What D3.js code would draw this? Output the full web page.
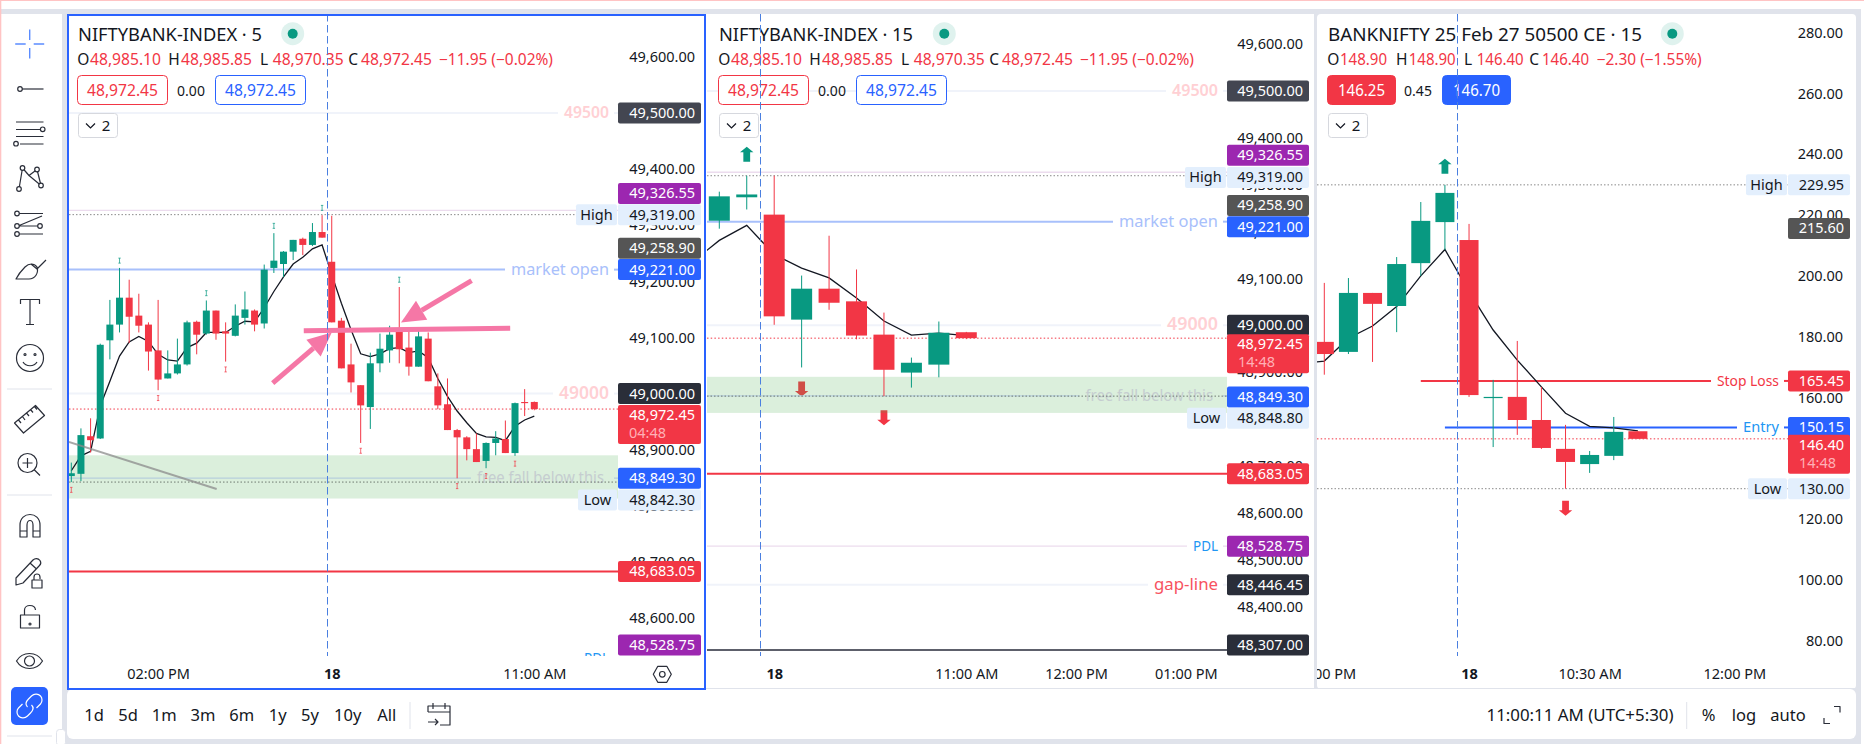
<!DOCTYPE html>
<html>
<head>
<meta charset="utf-8">
<title>Bank Nifty</title>
<script src="https://cdn.jsdelivr.net/npm/d3@7"></script>
<style>
body { margin: 0; background: #fff; }
text { font-family: "Noto Sans", sans-serif; }
</style>
</head>
<body>
<div id="chart"></div>
<script>
// 5 minute index
const open5 = [48853,48857,48924,48920,49095,49123,49171,49139,49123,49077,49027,49036,49052,49128,49107,49148,49111,49103,49135,49148,49125,49224,49231,49253,49276,49265,49288,49235,49130,49052,49015,48976,49054,49077,49111,49082,49048,49098,49013,48981,48935,48922,48901,48880,48912,48919,48894,48985,48985.1];
const high5 = [48877,48938,48956,49089,49167,49224,49203,49178,49127,49167,49077,49098,49130,49130,49166,49148,49127,49159,49182,49150,49230,49286,49254,49274,49278,49304,49318,49317,49135,49089,49015,49073,49107,49121,49190,49111,49112,49109,49036,49027,48937,48924,48929,48913,48933,48952,48984,49008,48985.85];
const low5 = [48842.3,48844,48895,48919,49061,49109,49090,49109,49041,49006,49027,49034,49050,49070,49105,49096,49057,49102,49123,49111,49116,49215,49208,49238,49247,49263,49278,49127,49045,49002,48912,48937,49038,49055,49054,49032,49048,49022,48972,48935,48849,48881,48878,48867,48890,48894,48889,48960,48970.35];
const close5 = [48858,48926,48917,49087,49123,49171,49137,49121,49075,49025,49036,49052,49127,49105,49148,49107,49107,49139,49150,49123,49221,49237,49253,49274,49265,49288,49278,49127,49045,49020,48979,49054,49080,49105,49079,49048,49102,49022,48979,48935,48922,48901,48878,48912,48920,48894,48983,48983,48972.45];
const ma5 = [48862.5,48889,48897,48978,49022,49067,49092,49102,49093,49070,49060,49058,49082,49090,49109,49109,49109,49120,49129,49128,49153,49182,49208,49231,49243,49258,49265,49212,49161,49114,49071,49066,49071,49080,49082,49073,49076,49064,49027,48995,48969,48948,48929,48923,48922,48916,48942,48953,48960];
const peakBars5 = [5,14,21,26,34];
const dipBars5 = [0,9,16,30,40,43,46];

// 15 minute index
const open15 = [49223,49273,49236,49012,49078,49051,48980,48899,48916,48985.1];
const high15 = [49285,49319,49319,49106,49191,49119,49027,48931,49008,48985.85];
const low15 = [49206,49247,49001,48910,49033,48970,48848.8,48867,48889,48970.35];
const close15 = [49275,49279,49019,49078,49048,48978,48905,48920,48984,48972.45];
const ma15 = [49134,49181,49213,49151,49122,49101,49058,49009,48979,48983,48978]; // first point is the bar before the left edge

// 15 minute option
const open15ce = [178.3,175,194.4,190.1,204.2,217.7,211.8,159.8,160.2,152.6,143.1,138.1,140.8,148.9];
const high15ce = [197.7,199.3,194.4,206.2,224.3,229.95,217.1,165.8,178.6,163.5,151,142.4,153.6,148.9];
const low15ce = [167.5,174.3,171.7,181.5,200,208.5,160.2,143.7,147.7,143.1,130,135.2,139.4,146.4];
const close15ce = [174.3,194.4,190.8,203.9,218.1,227.3,160.8,160.2,152.6,143.4,138.8,141.1,148.7,146.4];
const ma15ce = [171,172,179.5,183.5,189.9,200,208.7,194.8,182.2,172.3,163.5,154.8,150.5,150,149];

// price axis ticks
const ticksIndex5 = [49600,49500,49400,49300,49200,49100,49000,48900,48800,48700,48600];
const ticksIndex15 = [49600,49500,49400,49300,49200,49100,49000,48900,48800,48700,48600,48500,48400];
const ticksOption = [280,260,240,220,200,180,160,140,120,100,80];

// time axis
const timeBars5 = [9,27,48];
const timeLabels5 = ["02:00 PM","18","11:00 AM"];
const timeBars15 = [2,9,13,17];
const timeLabels15 = ["18","11:00 AM","12:00 PM","01:00 PM"];
const timeBarsCe = [0,6,11,17];
const timeLabelsCe = ["03:00 PM","18","10:30 AM","12:00 PM"];

// drawn levels
const levelPrices = [49500,49326.55,49221,49000,48849.3,48683.05,48528.75,48446.45,48307];
const levelNames = ["49500","","market open","49000","free fall below this","","PDL","gap-line",""];
const zonePrices = [48890,48813];
const dayHigh5 = 49319, dayLow5 = 48842.3, dayHigh15 = 49319, dayLow15 = 48848.8;
const dayHighCe = 229.95, dayLowCe = 130, stopLoss = 165.45, entry = 150.15, maTagCe = 215.6, maTag = 49258.9;

// pink notes on the 5 minute chart: [bar, price]
const noteFlat = [[24.1,49112],[45.5,49116.7]];
const noteArrowA = [[20.88,49018.7],[27,49108.8]];
const noteArrowB = [[41.5,49201.5],[34.18,49126.6]];
const greyTrend = [[-0.25,48914],[15.07,48830]];

const rangeLabels = ["1d","5d","1m","3m","6m","1y","5y","10y","All"];

const RED = "#f23645", GREEN = "#089981", BLUE = "#2962ff", PURPLE = "#9c27b0", DARK = "#2a2e39", INK = "#131722", GREY = "#e0e3eb", PINK = "#f577a6", SOFT = "#f0f3fa";
const fmt = d3.format(",.2f");
const fmt2 = d3.format(".2f");

const svg = d3.select("#chart").append("svg")
    .attr("width", 1864).attr("height", 744)
    .style("display", "block");

// page frame
svg.append("rect").attr("width", 1864).attr("height", 744).attr("fill", "#fff");
svg.append("rect").attr("y", 9).attr("x", 1).attr("width", 1860).attr("height", 735).attr("fill", GREY);
svg.append("rect").attr("x", 1).attr("y", 14).attr("width", 61).attr("height", 730).attr("fill", "#fff");
svg.append("rect").attr("width", 1864).attr("height", 1).attr("fill", "#ffc4c4");
svg.append("rect").attr("width", 1.3).attr("height", 744).attr("fill", "#ffc4c4");
svg.append("rect").attr("x", 1861).attr("y", 9).attr("width", 3).attr("height", 735).attr("fill", "#fff");
svg.append("rect").attr("x", 67).attr("y", 14).attr("width", 640).attr("height", 675).attr("fill", "#fff");
svg.append("rect").attr("x", 707).attr("y", 14).attr("width", 607).attr("height", 675).attr("fill", "#fff");
svg.append("rect").attr("x", 1317).attr("y", 14).attr("width", 539).attr("height", 675).attr("rx", 4).attr("fill", "#fff");
svg.append("rect").attr("x", 67).attr("y", 689).attr("width", 1789).attr("height", 50).attr("rx", 6).attr("fill", "#fff");
svg.append("rect").attr("x", 67).attr("y", 688).attr("width", 1789).attr("height", 1).attr("fill", GREY);
svg.append("rect").attr("x", 56.5).attr("y", 729.5).attr("width", 9).attr("height", 16).attr("rx", 3)
    .attr("fill", "#fff").attr("stroke", GREY);

const defs = svg.append("defs");
function clip(id, x, y, w, h) {
    defs.append("clipPath").attr("id", id).append("rect")
        .attr("x", x).attr("y", y).attr("width", w).attr("height", h);
}

function put(g, x, y, str, o) {
    o = o || {};
    const t = g.append("text").attr("x", x).attr("y", y).text(str)
        .attr("fill", o.fill || INK)
        .attr("font-size", o.size || 14.5)
        .attr("text-anchor", o.anchor || "start");
    if (o.weight) t.attr("font-weight", o.weight);
    if (o.len) t.attr("textLength", o.len).attr("lengthAdjust", "spacingAndGlyphs");
    return t;
}

function drawPane(c) {
    const n = c.open.length;
    const x = d3.scaleLinear().domain([0, n - 1]).range(c.xRange);
    const y = d3.scaleLinear().domain(c.yDomain).range(c.yRange);
    const id = c.id;
    clip("plot" + id, c.left, 16, c.axisX - c.left, 640);
    clip("time" + id, c.left, 656, c.axisX - c.left + 60, 32);

    // price ticks go under the tags
    const axis = svg.append("g").attr("transform", "translate(" + c.axisX + ",0)")
        .call(d3.axisRight(y).tickValues(c.ticks).tickFormat(fmt).tickSize(0));
    axis.select(".domain").remove();
    axis.selectAll("text")
        .attr("x", c.tickRight).attr("dy", ".32em").attr("text-anchor", "end")
        .attr("fill", INK).style("font-family", "Noto Sans").style("font-size", "14.5px");

    // time axis
    const timeAxis = svg.append("g").attr("clip-path", "url(#time" + id + ")").append("g")
        .attr("transform", "translate(0,674)")
        .call(d3.axisBottom(x).tickValues(c.timeBars).tickSize(0)
            .tickFormat((d, i) => c.timeLabels[i]));
    timeAxis.select(".domain").remove();
    timeAxis.selectAll("text")
        .attr("y", 0).attr("dy", ".35em").attr("fill", INK)
        .style("font-family", "Noto Sans").style("font-size", "14.5px")
        .style("font-weight", (d, i) => c.timeLabels[i] == "18" ? "700" : "400");

    const plot = svg.append("g").attr("clip-path", "url(#plot" + id + ")");

    // big session arrows sit under the zone
    (c.bigArrows || []).forEach(a => {
        const ax = x(a.bar), s = a.up ? -1 : 1;
        const ay = y(a.up ? c.high[a.bar] : c.low[a.bar]) + s * a.gap;
        plot.append("path")
            .attr("d", d3.line()([[ax - 3.4, ay], [ax + 3.4, ay], [ax + 3.4, ay + s * 9.5], [ax + 6.7, ay + s * 9.5], [ax, ay + s * 15], [ax - 6.7, ay + s * 9.5], [ax - 3.4, ay + s * 9.5]]) + "Z")
            .attr("fill", a.up ? GREEN : RED);
    });

    if (c.zone) {
        plot.append("rect").attr("x", c.left).attr("width", c.axisX - c.left)
            .attr("y", y(c.zone[0])).attr("height", y(c.zone[1]) - y(c.zone[0]))
            .attr("fill", "#4caf50").attr("opacity", 0.2);
    }

    // horizontal levels, split around their names
    c.levels.forEach(l => {
        const ly = y(l.price);
        let endX = c.axisX, startX = l.from === undefined ? c.left : x(l.from);
        if (l.name) {
            const pad = l.pad || 9;
            const t = put(plot, c.axisX - pad, ly + 5, l.name, { anchor: "end", fill: l.textFill, size: l.size || 15, len: l.len, weight: l.weight });
            const tw = l.len || t.node().getComputedTextLength();
            endX = c.axisX - pad - tw - 6;
            plot.append("line").attr("x1", c.axisX - 4).attr("x2", c.axisX).attr("y1", ly).attr("y2", ly)
                .attr("stroke", l.stroke).attr("stroke-width", l.w);
        }
        plot.append("line").attr("x1", startX).attr("x2", endX).attr("y1", ly).attr("y2", ly)
            .attr("stroke", l.stroke).attr("stroke-width", l.w)
            .attr("stroke-dasharray", l.dash || null);
    });

    // moving average stays behind the bodies
    const maStart = c.ma.length - n ? n - c.ma.length : 0;
    plot.append("path")
        .datum(c.ma)
        .attr("fill", "none").attr("stroke", "#131722").attr("stroke-width", 1.3)
        .attr("d", d3.line().x((d, i) => x(i + maStart)).y(d => y(d)));

    const bars = d3.range(n);
    const colr = i => c.close[i] < c.open[i] ? RED : GREEN;
    plot.selectAll(".wick" + id).data(bars).enter().append("line")
        .attr("x1", i => x(i)).attr("x2", i => x(i))
        .attr("y1", i => y(c.high[i])).attr("y2", i => y(c.low[i]))
        .attr("stroke", colr).attr("stroke-width", 1);
    plot.selectAll(".body" + id).data(bars).enter().append("rect")
        .attr("x", i => x(i) - c.bodyW / 2).attr("width", c.bodyW)
        .attr("y", i => Math.min(y(c.open[i]), y(c.close[i])))
        .attr("height", i => Math.max(1, Math.abs(y(c.open[i]) - y(c.close[i]))))
        .attr("fill", colr);

    // small peak and dip ticks
    const tiny = (bar, py, col) => {
        const tx = x(bar);
        plot.append("path")
            .attr("d", `M${tx},${py - 2.5}V${py + 2.5}M${tx - 1.2},${py - 2.5}H${tx + 1.2}M${tx - 1.2},${py + 2.5}H${tx + 1.2}`)
            .attr("stroke", col).attr("stroke-width", 1).attr("fill", "none").attr("opacity", 0.7);
    };
    (c.peaks || []).forEach(b => tiny(b, y(c.high[b]) - 7.3, GREEN));
    (c.dips || []).forEach(b => tiny(b, y(c.low[b]) + 7.8, RED));

    if (c.extra) c.extra(plot, x, y);

    // tags on the price scale
    c.tags.forEach(t => {
        const cy = y(t.price) + (t.shift || 0);
        const h = t.timer ? 39 : 21;
        const top = t.timer ? y(t.price) - 4 : cy - 10.5;
        svg.append("rect").attr("x", c.axisX).attr("y", top).attr("width", c.tagW).attr("height", h)
            .attr("rx", 2).attr("fill", t.bg);
        const base = t.timer ? top + 15 : cy + 5;
        put(svg, c.axisX + c.tagText, base, fmt(t.price).replace(c.strip ? /,/g : "", ""), { anchor: "end", fill: t.fg || "#fff" });
        if (t.timer) put(svg, c.axisX + 48, top + 33, t.timer, { anchor: "end", fill: "#ffb0b6" });
        if (t.side) {
            svg.append("rect").attr("x", c.axisX - t.sideW - 1).attr("y", top).attr("width", t.sideW).attr("height", h)
                .attr("rx", 2).attr("fill", t.bg);
            put(svg, c.axisX - 1 - t.sideW / 2, base, t.side, { anchor: "middle" });
        }
    });

    // legend
    const L = svg.append("g");
    put(L, c.title.x, 41, c.title.text, { size: 18, len: c.title.len });
    L.append("circle").attr("cx", c.title.dot).attr("cy", 33.7).attr("r", 11.5).attr("fill", "#dff2ee");
    L.append("circle").attr("cx", c.title.dot).attr("cy", 33.7).attr("r", 5).attr("fill", GREEN);
    const last = n - 1;
    const f = c.strip ? fmt2 : fmt;
    const parts = [["O", c.row[0], c.open[last]], ["H", c.row[1], c.high[last]], ["L", c.row[2], c.low[last]], ["C", c.row[3], c.close[last]]];
    parts.forEach(p => {
        put(L, p[1], 65, p[0], { size: 15.5 });
        put(L, p[1] + c.rowGap, 65, f(p[2]), { size: 15.5, fill: RED, len: c.rowLen });
    });
    put(L, c.row[4], 65, c.change, { size: 15.5, fill: RED, len: c.changeLen });
    const btn = (bx, w, txt, col, solid) => {
        L.append("rect").attr("x", bx + 0.5).attr("y", 75.5).attr("width", w).attr("height", 29).attr("rx", 4)
            .attr("fill", solid ? col : "#fff").attr("stroke", col);
        put(L, bx + w / 2 + 0.5, 96, txt, { anchor: "middle", size: 15.5, fill: solid ? "#fff" : col, len: c.btnLen });
    };
    btn(c.btn[0], c.btnW, c.sell, RED, c.solid);
    put(L, c.btn[1], 95.5, c.spread, { anchor: "middle", size: 14 });
    btn(c.btn[2], c.btnW, c.buy, BLUE, c.solid);
    L.append("rect").attr("x", c.btn[0] + 1.5).attr("y", 113.5).attr("width", 39).attr("height", 24).attr("rx", 3)
        .attr("fill", "#fff").attr("stroke", "#d6d8de");
    L.append("path").attr("d", `M${c.btn[0] + 9},${123.5}l4.5,4.5l4.5,-4.5`).attr("fill", "none").attr("stroke", INK).attr("stroke-width", 1.2);
    put(L, c.btn[0] + 29, 131, "2", { anchor: "middle", size: 15 });

    // crosshair passes over everything
    svg.append("line").attr("x1", c.crossX).attr("x2", c.crossX).attr("y1", 14).attr("y2", 656)
        .attr("stroke", "#4a7fe0").attr("stroke-width", 1).attr("stroke-dasharray", "7.5,3.5");
}

const levelStyle = [
    { stroke: SOFT, w: 2, textFill: "#ffd0d4", size: 15.5, weight: 600 },
    { stroke: "#ecdcee", w: 1.4 },
    { stroke: "#a8c0fb", w: 2, textFill: "#a8c0fb", size: 15.5 },
    { stroke: SOFT, w: 2, textFill: "#ffd0d4", size: 17, weight: 600 },
    { stroke: "#b7cfdc", w: 1.4, textFill: "#c5cdd0", size: 15.5, pad: 14 },
    { stroke: RED, w: 2 },
    { stroke: "#ecdcee", w: 1.4, textFill: "#2196f3", size: 15 },
    { stroke: SOFT, w: 2, textFill: "#f7525f", size: 15.5 },
    { stroke: "#5d606b", w: 2 }
];
const levelLens = [[45,null,98,50,127,null,25,64,null],[46,null,99,51,127.5,null,25,64,null]];
const buildLevels = (k, high, low) => levelPrices.map((p, i) => Object.assign({ price: p, name: levelNames[i], len: levelLens[k][i] }, levelStyle[i]))
    .concat([
        { price: high, stroke: "#8a8a8a", w: 1, dash: "1.5,2", end: true },
        { price: low, stroke: "#6f7a70", w: 1, dash: "1.5,2" },
        { price: close5[close5.length - 1], stroke: RED, w: 1, dash: "1.5,2.2" }
    ]);

// pink notes and the grey trend line, given as bar and price
function drawNotes(plot, x, y) {
    plot.append("line")
        .attr("x1", x(greyTrend[0][0])).attr("y1", y(greyTrend[0][1]))
        .attr("x2", x(greyTrend[1][0])).attr("y2", y(greyTrend[1][1]))
        .attr("stroke", "#8c8c8c").attr("stroke-width", 2).attr("opacity", 0.75);
    plot.append("line")
        .attr("x1", x(noteFlat[0][0])).attr("y1", y(noteFlat[0][1]))
        .attr("x2", x(noteFlat[1][0])).attr("y2", y(noteFlat[1][1]))
        .attr("stroke", PINK).attr("stroke-width", 5);
    [noteArrowA, noteArrowB].forEach(a => {
        const x0 = x(a[0][0]), y0 = y(a[0][1]), x1 = x(a[1][0]), y1 = y(a[1][1]);
        const d = Math.hypot(x1 - x0, y1 - y0), ux = (x1 - x0) / d, uy = (y1 - y0) / d;
        const bx = x1 - ux * 24, by = y1 - uy * 24;
        plot.append("line").attr("x1", x0).attr("y1", y0).attr("x2", bx).attr("y2", by)
            .attr("stroke", PINK).attr("stroke-width", 5);
        plot.append("path")
            .attr("d", d3.line()([[x1, y1], [bx - uy * 11, by + ux * 11], [bx + uy * 11, by - ux * 11]]) + "Z")
            .attr("fill", PINK);
    });
}

drawPane({
    id: 1, left: 69, axisX: 618, tagW: 83, tagText: 77, tickRight: 77, bodyW: 7, crossX: 327.5,
    open: open5, high: high5, low: low5, close: close5, ma: ma5,
    xRange: [71.3, 534.3], yDomain: [49600, 48600], yRange: [57, 618],
    ticks: ticksIndex5, timeBars: timeBars5, timeLabels: timeLabels5,
    zone: zonePrices, peaks: peakBars5, dips: dipBars5, extra: drawNotes,
    levels: buildLevels(0, dayHigh5, dayLow5),
    tags: [
        { price: 49500, bg: "#434651" },
        { price: 49326.55, bg: PURPLE, shift: -17 },
        { price: dayHigh5, bg: "#e3effd", fg: INK, side: "High", sideW: 41 },
        { price: maTag, bg: "#555" },
        { price: 49221, bg: BLUE },
        { price: 49000, bg: DARK },
        { price: close5[48], bg: RED, timer: "04:48" },
        { price: 48849.3, bg: BLUE },
        { price: dayLow5, bg: "#e3effd", fg: INK, side: "Low", sideW: 39, shift: 18 },
        { price: 48683.05, bg: RED },
        { price: 48528.75, bg: PURPLE, shift: -13 }
    ],
    title: { x: 78, text: "NIFTYBANK-INDEX · 5", len: 184, dot: 292.7 },
    row: [77.3, 168.3, 260, 348.3, 439], rowGap: 12.7, rowLen: 71, change: "−11.95 (−0.02%)", changeLen: 114,
    btn: [77, 191, 215], btnW: 90, btnLen: 71, sell: "48,972.45", buy: "48,972.45", spread: "0.00"
});

drawPane({
    id: 2, left: 707, axisX: 1227, tagW: 82, tagText: 76, tickRight: 76, bodyW: 21, crossX: 760.5,
    open: open15, high: high15, low: low15, close: close15, ma: ma15,
    xRange: [719.3, 966.3], yDomain: [49600, 48400], yRange: [44, 606.5],
    ticks: ticksIndex15, timeBars: timeBars15, timeLabels: timeLabels15,
    zone: zonePrices,
    bigArrows: [{ bar: 1, up: true, gap: 14 }, { bar: 3, up: false, gap: 14 }, { bar: 6, up: false, gap: 14 }],
    levels: buildLevels(1, dayHigh15, dayLow15),
    tags: [
        { price: 49500, bg: "#434651" },
        { price: 49326.55, bg: PURPLE, shift: -17 },
        { price: dayHigh15, bg: "#e3effd", fg: INK, side: "High", sideW: 41, shift: 1.7 },
        { price: maTag, bg: "#555", shift: 1.5 },
        { price: 49221, bg: BLUE, shift: 5 },
        { price: 49000, bg: DARK },
        { price: close15[9], bg: RED, timer: "14:48" },
        { price: 48849.3, bg: BLUE, shift: 1 },
        { price: dayLow15, bg: "#e3effd", fg: INK, side: "Low", sideW: 39, shift: 22 },
        { price: 48683.05, bg: RED },
        { price: 48528.75, bg: PURPLE },
        { price: 48446.45, bg: DARK },
        { price: 48307, bg: DARK, shift: -5 }
    ],
    title: { x: 719, text: "NIFTYBANK-INDEX · 15", len: 194, dot: 944.3 },
    row: [718.3, 809.3, 901, 989.3, 1080], rowGap: 12.7, rowLen: 71, change: "−11.95 (−0.02%)", changeLen: 114,
    btn: [718, 832, 856], btnW: 90, btnLen: 71, sell: "48,972.45", buy: "48,972.45", spread: "0.00"
});

drawPane({
    id: 3, left: 1317, axisX: 1788, tagW: 62, tagText: 56, tickRight: 55, bodyW: 19, crossX: 1457.5, strip: true,
    open: open15ce, high: high15ce, low: low15ce, close: close15ce, ma: ma15ce,
    xRange: [1324.3, 1637.9], yDomain: [280, 80], yRange: [32.7, 640.7],
    ticks: ticksOption, timeBars: timeBarsCe, timeLabels: timeLabelsCe,
    bigArrows: [{ bar: 5, up: true, gap: 11 }, { bar: 10, up: false, gap: 12 }],
    levels: [
        { price: dayHighCe, stroke: "#8a8a8a", w: 1, dash: "1.5,2" },
        { price: dayLowCe, stroke: "#8a8a8a", w: 1, dash: "1.5,2" },
        { price: close15ce[13], stroke: RED, w: 1, dash: "1.5,2.2" },
        { price: stopLoss, stroke: RED, w: 2, name: "Stop Loss", textFill: RED, size: 15, len: 62, from: 4 },
        { price: entry, stroke: BLUE, w: 2, name: "Entry", textFill: "#2196f3", size: 15, len: 36, from: 5 }
    ],
    tags: [
        { price: dayHighCe, bg: "#e3effd", fg: INK, side: "High", sideW: 41 },
        { price: maTagCe, bg: "#555" },
        { price: stopLoss, bg: RED },
        { price: entry, bg: BLUE },
        { price: close15ce[13], bg: RED, timer: "14:48" },
        { price: dayLowCe, bg: "#e3effd", fg: INK, side: "Low", sideW: 39 }
    ],
    title: { x: 1328, text: "BANKNIFTY 25 Feb 27 50500 CE · 15", len: 314, dot: 1672.3 },
    row: [1327.3, 1396, 1464, 1529.3, 1596.7], rowGap: 12.7, rowLen: 47, change: "−2.30 (−1.55%)", changeLen: 105,
    btn: [1327, 1418, 1442], btnW: 68, btnLen: 47, sell: "146.25", buy: "146.70", spread: "0.45", solid: true
});

// selected pane outline
svg.append("rect").attr("x", 68).attr("y", 15).attr("width", 637).attr("height", 674)
    .attr("fill", "none").attr("stroke", BLUE).attr("stroke-width", 2);

// footer
const rangeX = [94,128,164.3,203,241.7,277.7,310,347.7,386.7];
rangeLabels.forEach((t, i) => put(svg, rangeX[i], 721, t, { anchor: "middle", size: 16.5 }));
put(svg, 1580, 721, "11:00:11 AM (UTC+5:30)", { anchor: "middle", size: 16.5, len: 187 });
put(svg, 1708.6, 721, "%", { anchor: "middle", size: 16.5 });
put(svg, 1744, 721, "log", { anchor: "middle", size: 16.5 });
put(svg, 1788, 721, "auto", { anchor: "middle", size: 16.5 });
[[410, 702, 729], [1686.7, 702, 729]].forEach(s => {
    svg.append("line").attr("x1", s[0]).attr("x2", s[0]).attr("y1", s[1]).attr("y2", s[2]).attr("stroke", GREY);
});

// icons, drawn around their own centres
function icon(cx, cy, d, col) {
    return svg.append("path").attr("transform", `translate(${cx},${cy})`).attr("d", d)
        .attr("fill", "none").attr("stroke", col || "#2a2e39").attr("stroke-width", 1.2)
        .attr("stroke-linejoin", "round");
}
function dots(cx, cy, pts, r) {
    pts.forEach(p => svg.append("circle").attr("cx", cx + p[0]).attr("cy", cy + p[1]).attr("r", r || 2.3)
        .attr("fill", "#fff").attr("stroke", "#2a2e39").attr("stroke-width", 1.2));
}
icon(29.7, 44, "M0-14.5V-4M0 4V14.5M-14.5 0H-4M4 0H14.5", "#5b8cff").attr("stroke-width", 1.4);
icon(30, 89, "M-8 0H13.5");
dots(30, 89, [[-10, 0]]);
icon(30, 133, "M-14-11H13.5M-14-3.5H10M-14 3.5H13.5M-10 11H13.5");
dots(30, 133, [[12.7, -3.7], [-14, 10.7]]);
icon(30, 177, "M-11 12L-7.5-9L-1 -1.5L7-7.5L11 8.5L-1-1.5");
dots(30, 177, [[-11, 12], [-7.5, -9], [7, -7.5], [11, 8.5]]);
icon(30, 223, "M-12-9.5H13M-12 3H10M-12 11H13M-12 3L12-7");
dots(30, 223, [[-13, -9.5], [-13, 3], [-13, 11], [10, 3]]);
icon(30, 268, "M-14 11H-1C5 11 9 5 7-1C4-5-1-5-5-1C-9 3-12 7-14 11ZM1-4L7 1L16-8");
icon(30, 313, "M-9.5-9V-13.5H9.5V-9M0-13.5V11.5M-4 11.5H4");
icon(30, 358, "M13.5 0A13.5 13.5 0 1 1-13.5 0A13.5 13.5 0 1 1 13.5 0ZM-7 4C-4 9 4 9 7 4");
dots(30, 358, [[-5, -3.5], [5, -3.5]], 1);
[389, 495, 736].forEach(v => svg.append("line").attr("x1", 7).attr("x2", 52).attr("y1", v).attr("y2", v).attr("stroke", GREY));
icon(29.5, 419, "M-15 4L6-13.5L15-3.5L-6 14ZM-11 1L-8.5 4M-7-2.5L-4.5 1M-3-6L-.5-3M1-9.5L3.5-6.5M5-12.5L7.5-9.5");
icon(28, 463, "M9 0A9.5 9.5 0 1 1-10 0A9.5 9.5 0 1 1 9 0ZM-.5-5V5M-5.5 0H4.5M6.5 7L12 12.5");
icon(30, 526, "M-10 11V-1C-10-15 10-15 10-1V11H3V-1C3-7-3-7-3-1V11ZM-10 5H-3M3 5H10");
icon(28, 570, "M-12 8L5-10C7-12 10-12 12-9.5C13-8 13-6 11.5-4.5L-5 13L-12 15ZM2-7L8.5-1");
icon(37, 580, "M-5 0H5V8H-5ZM-3 0V-3C-3-7 3-7 3-3V-1");
icon(30, 618, "M-9.5-3H9.5V10H-9.5ZM-5.5-3V-8C-5.5-14 5-14 5.5-8");
dots(30, 624, [[0, 0]], 1);
icon(29.5, 661, "M-13 0C-7-10 7-10 13 0C7 10-7 10-13 0ZM5 0A5 5 0 1 1-5 0A5 5 0 1 1 5 0Z");
svg.append("rect").attr("x", 11).attr("y", 687).attr("width", 37).attr("height", 38).attr("rx", 5).attr("fill", BLUE);
icon(29.5, 706, "M-2 1C-5-2-3-5-1-7L2-10C5-13 9-12 11-10C13-8 13-4 11-2L7 2M2-1C5 2 3 5 1 7L-2 10C-5 13-9 12-11 10C-13 8-13 4-11 2L-7-2", "#fff");
// settings, calendar, expand
icon(662.3, 674.3, "M-9 0L-4.5-8H4.5L9 0L4.5 8H-4.5Z");
dots(662.3, 674.3, [[0, 0]], 2.8);
icon(439, 715, "M-11-3V-9H11V10H1M-6-12V-6M6-12V-6M-11-3H11M-11 7H-1M-4 4L-1 7L-4 10");
icon(1832, 715, "M-8 3V8.5H-2M8-2.5V-8.5H2");
</script>
</body>
</html>
